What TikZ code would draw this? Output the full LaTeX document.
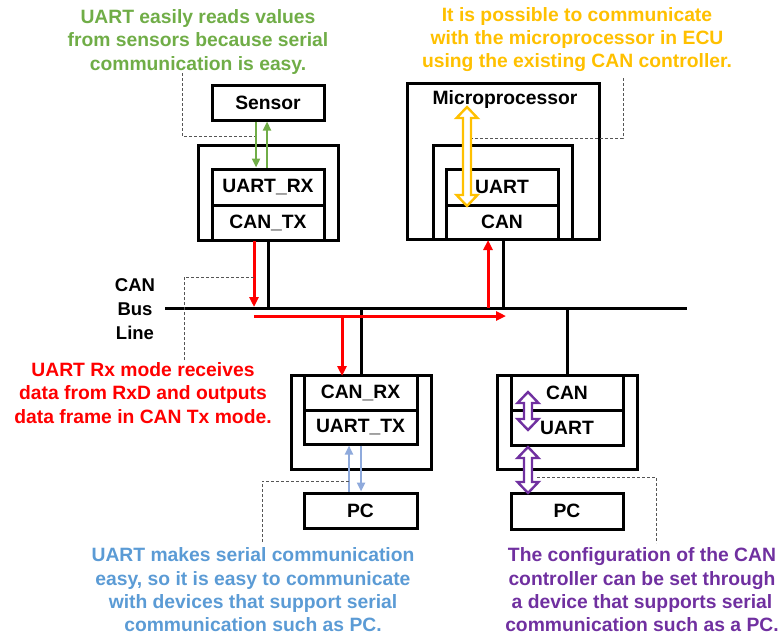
\documentclass[tikz,border=0pt]{standalone}
\usepackage{fontspec}
\setmainfont{Liberation Sans}
\usetikzlibrary{arrows.meta}
\definecolor{cgreen}{HTML}{70AD47}
\definecolor{cyellow}{HTML}{FFC000}
\definecolor{cblue}{HTML}{5B9BD5}
\definecolor{clblue}{HTML}{8FAADC}
\definecolor{cpurple}{HTML}{7030A0}
\definecolor{cred}{HTML}{FF0000}
\definecolor{cdash}{HTML}{555555}
\newcommand{\hollowdarrow}[4]{%
  \draw[#1, line width=2.4pt, fill=white, line join=miter]
    ({#2-4},{#3+11}) -- ({#2-10.5},{#3+11}) -- ({#2},{#3}) -- ({#2+10.5},{#3+11}) -- ({#2+4},{#3+11})
    -- ({#2+4},{#4-11}) -- ({#2+10.5},{#4-11}) -- ({#2},{#4}) -- ({#2-10.5},{#4-11}) -- ({#2-4},{#4-11}) -- cycle;}
\begin{document}
\begin{tikzpicture}[x=1pt,y=-1pt,
  box/.style={draw=black, line width=3pt, inner sep=0pt, font=\fontsize{19.3}{22}\selectfont\bfseries},
  frame/.style={draw=black, line width=3pt, inner sep=0pt},
  note/.style={align=center, inner sep=0pt, font=\fontsize{19.3}{23.3}\selectfont\bfseries},
  bus/.style={black, line width=3pt},
  redarr/.style={cred, line width=3pt, -{Triangle[length=10pt,width=9pt]}},
  grnarr/.style={cgreen, line width=2.5pt, -{Triangle[length=9pt,width=8pt]}},
  bluarr/.style={clblue, line width=2.5pt, -{Triangle[length=9pt,width=8pt]}},
  callout/.style={cdash, line width=1pt, dash pattern=on 3pt off 2pt}]
\useasboundingbox (0,0) rectangle (783,637);

% ---- left top ECU with sensor
\node[box, minimum width=112pt, minimum height=35pt] (sensor) at (268,102.5) {Sensor};
\node[frame, minimum width=140pt, minimum height=95pt] (ecu1) at (268,192.5) {};
\node[box, minimum width=112pt, minimum height=36pt] (uartrx) at (268,187) {UART\_RX};
\node[box, minimum width=112pt, minimum height=35pt] (cantx) at (268,222.5) {CAN\_TX};

% ---- microprocessor ECU
\node[frame, minimum width=192pt, minimum height=156pt] (micro) at (503,161) {};
\node[box, draw=none, inner sep=0pt] (microlbl) at (505,100) {Microprocessor};
\node[frame, minimum width=139pt, minimum height=94pt] (ecu2) at (502.5,192) {};
\node[box, minimum width=112pt, minimum height=36pt] (uart2) at (502,187) {UART};
\node[box, minimum width=112pt, minimum height=34pt] (can2) at (502,222) {CAN};

% ---- bottom middle ECU
\node[frame, minimum width=140pt, minimum height=94pt] (ecu3) at (361,422) {};
\node[box, minimum width=113pt, minimum height=35pt] (canrx) at (360.5,392.5) {CAN\_RX};
\node[box, minimum width=113pt, minimum height=34pt] (uarttx) at (360.5,427) {UART\_TX};
\node[box, minimum width=113pt, minimum height=35pt] (pc1) at (360.5,510.5) {PC};

% ---- bottom right ECU
\node[frame, minimum width=140pt, minimum height=94pt] (ecu4) at (567,422) {};
\node[box, minimum width=112pt, minimum height=35pt] (can4) at (567,392.5) {CAN};
\node[box, minimum width=112pt, minimum height=35pt] (uart4) at (567,427.5) {UART};
\node[box, minimum width=112pt, minimum height=36pt] (pc2) at (567,511) {PC};

% ---- CAN bus
\coordinate (busL) at (165,308);
\coordinate (busR) at (687,308);
\draw[bus] (busL) -- (busR);
\node[note, font=\fontsize{18.5}{24}\selectfont\bfseries] (buslbl) at (135,309) {CAN\\Bus\\Line};
\draw[bus] (ecu1.south) -- (ecu1.south |- busL);
\draw[bus] (micro.south) -- (micro.south |- busL);
\draw[bus] (ecu3.north) -- (ecu3.north |- busL);
\draw[bus] (ecu4.north) -- (ecu4.north |- busL);

% ---- red data path
\coordinate (r1a) at (254,241);
\coordinate (r1b) at (254,307);
\coordinate (r2a) at (254,316);
\coordinate (r2b) at (506,316);
\coordinate (r3a) at (488,308);
\coordinate (r3b) at (488,240);
\coordinate (r4a) at (342,316);
\coordinate (r4b) at (342,376);
\draw[redarr] (r1a) -- (r1b);
\draw[redarr] (r2a) -- (r2b);
\draw[redarr] (r3a) -- (r3b);
\draw[redarr] (r4a) -- (r4b);

% ---- green arrows
\draw[grnarr] ([xshift=-12pt]sensor.south) -- ([xshift=-12pt]uartrx.north);
\draw[grnarr] ([xshift=-1pt]uartrx.north) -- ([xshift=-1pt]sensor.south);

% ---- blue arrows
\draw[bluarr] ([xshift=-11.5pt]pc1.north) -- ([xshift=-11.5pt]uarttx.south);
\draw[bluarr] ([xshift=0.5pt]uarttx.south) -- ([xshift=0.5pt]pc1.north);

% ---- hollow double arrows
\hollowdarrow{cyellow}{467}{107}{206}
\hollowdarrow{cpurple}{528}{392}{430}
\hollowdarrow{cpurple}{528}{447}{493}

% ---- dashed callouts
\draw[callout] (182,73) -- (182,136) -- (255,136);
\draw[callout] (623,78) -- (623,138) -- (472,138);
\draw[callout] (184,360) -- (184,277) -- (254,277);
\draw[callout] (262,542) -- (262,481) -- (349,481);
\draw[callout] (537,477) -- (656,477) -- (656,543);

% ---- notes
\node[note, text=cgreen] (ngreen) at (198,42) {UART easily reads values\\from sensors because serial\\communication is easy.};
\node[note, text=cyellow] (nyellow) at (577,39.5) {It is possible to communicate\\with the microprocessor in ECU\\using the existing CAN controller.};
\node[note, text=cred] (nred) at (143,393) {UART Rx mode receives\\data from RxD and outputs\\data frame in CAN Tx mode.};
\node[note, text=cblue] (nblue) at (253,590) {UART makes serial communication\\easy, so it is easy to communicate\\with devices that support serial\\communication such as PC.};
\node[note, text=cpurple] (npurple) at (642,590) {The configuration of the CAN\\controller can be set through\\a device that supports serial\\communication such as a PC.};
\end{tikzpicture}
\end{document}
